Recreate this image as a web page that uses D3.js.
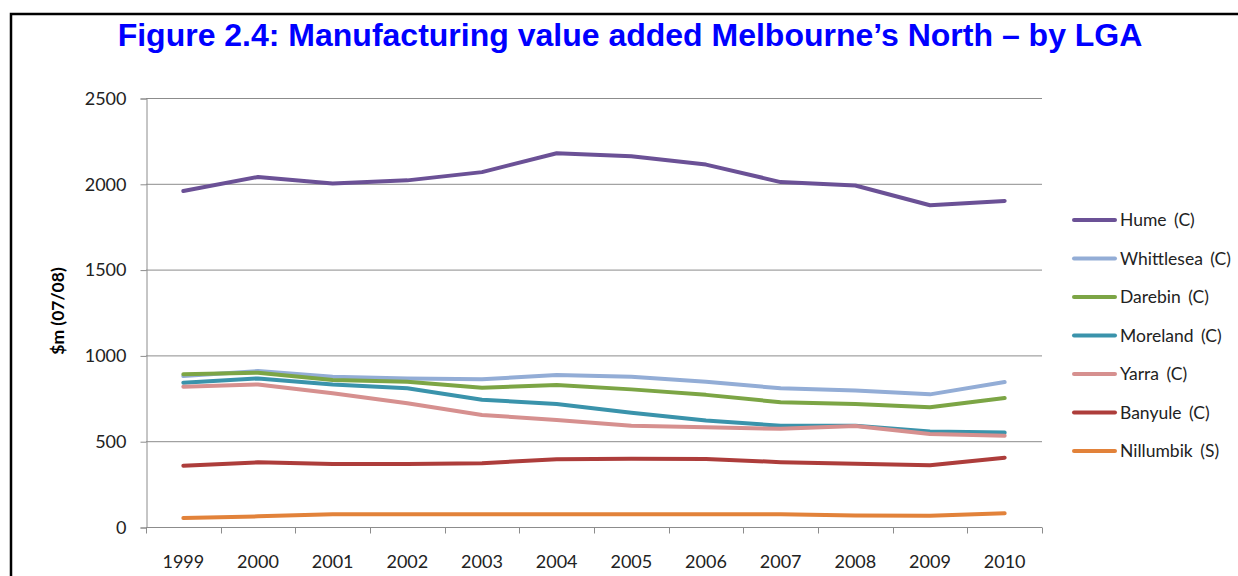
<!DOCTYPE html>
<html>
<head>
<meta charset="utf-8">
<script src="https://cdn.jsdelivr.net/npm/d3@7"></script>
<style>
  body { margin: 0; background: #fff; }
  svg { display: block; }
</style>
</head>
<body>
<svg id="chart" width="1238" height="576"></svg>
<script>
// Chart data
const years = ['1999', '2000', '2001', '2002', '2003', '2004', '2005', '2006', '2007', '2008', '2009', '2010']
const seriesNames = ['Hume (C)', 'Whittlesea (C)', 'Darebin (C)', 'Moreland (C)', 'Yarra (C)', 'Banyule (C)', 'Nillumbik (S)']
const hume = [1958, 2040, 2002, 2020, 2068, 2178, 2160, 2112, 2010, 1990, 1875, 1900]
const whittlesea = [880, 909, 876, 866, 861, 886, 876, 847, 808, 795, 773, 845]
const darebin = [890, 899, 857, 847, 812, 828, 802, 770, 727, 717, 698, 752]
const moreland = [841, 866, 831, 808, 742, 717, 666, 620, 590, 590, 556, 550]
const yarra = [818, 831, 779, 721, 653, 624, 590, 582, 572, 588, 542, 532]
const banyule = [357, 377, 367, 367, 372, 395, 398, 396, 378, 368, 360, 404]
const nillumbik = [52, 62, 74, 74, 74, 74, 74, 74, 74, 67, 66, 80]
const yTicks = [0, 500, 1000, 1500, 2000, 2500]

const colors = ['#6b5196', '#93add6', '#7ca545', '#3a93ab', '#d6908f', '#ad3d3b', '#e2823a']
const values = [hume, whittlesea, darebin, moreland, yarra, banyule, nillumbik]

const svg = d3.select('#chart')

// Frame (left + top edges)
svg.append('path')
  .attr('d', 'M11,576 V14 H1238')
  .attr('fill', 'none')
  .attr('stroke', '#000')
  .attr('stroke-width', 2.5)

// Title
svg.append('text')
  .attr('x', 630)
  .attr('y', 46)
  .attr('text-anchor', 'middle')
  .attr('font-family', 'Liberation Sans, Arial, sans-serif')
  .attr('font-weight', 'bold')
  .attr('font-size', 32)
  .attr('fill', '#0000ff')
  .text('Figure 2.4: Manufacturing value added Melbourne\u2019s North \u2013 by LGA')

const plotLeft = 146, plotRight = 1042, plotTop = 98, plotBottom = 527

const x = d3.scaleBand().domain(years).range([plotLeft, plotRight])
const y = d3.scaleLinear().domain([0, 2500]).range([plotBottom, plotTop])

const font = 'Lato, "Open Sans", sans-serif'

// Gridlines
svg.append('g')
  .selectAll('line')
  .data(yTicks.filter(d => d > 0))
  .join('line')
  .attr('x1', plotLeft)
  .attr('x2', plotRight)
  .attr('y1', d => y(d) + 0.5)
  .attr('y2', d => y(d) + 0.5)
  .attr('stroke', '#8c8c8c')
  .attr('stroke-width', 1)

// Y axis
const yAxis = svg.append('g')
  .attr('transform', `translate(${plotLeft + 0.5},0.5)`)
  .call(d3.axisLeft(y).tickValues(yTicks).tickFormat(d3.format('d')).tickSize(6).tickPadding(14))
yAxis.select('.domain').attr('stroke', '#8c8c8c')
yAxis.selectAll('.tick line').attr('stroke', '#8c8c8c')
yAxis.selectAll('.tick text')
  .attr('font-family', font)
  .attr('font-size', 18)
  .attr('fill', '#222')

// X axis (ticks at band edges)
const xAxis = svg.append('g')
  .attr('transform', `translate(0,${plotBottom + 0.5})`)
xAxis.append('line')
  .attr('x1', plotLeft).attr('x2', plotRight)
  .attr('stroke', '#8c8c8c')
xAxis.selectAll('.edge')
  .data(years.concat(['end']))
  .join('line')
  .attr('class', 'edge')
  .attr('x1', (d, i) => Math.round(plotLeft + i * x.step()) + 0.5)
  .attr('x2', (d, i) => Math.round(plotLeft + i * x.step()) + 0.5)
  .attr('y1', 0).attr('y2', 6)
  .attr('stroke', '#8c8c8c')
xAxis.selectAll('text')
  .data(years)
  .join('text')
  .attr('x', d => x(d) + x.bandwidth() / 2)
  .attr('y', 40)
  .attr('text-anchor', 'middle')
  .attr('font-family', font)
  .attr('font-size', 18)
  .attr('fill', '#222')
  .text(d => d)

// Y axis title
svg.append('text')
  .attr('transform', 'translate(64,311) rotate(-90)')
  .attr('text-anchor', 'middle')
  .attr('font-family', font)
  .attr('font-weight', 'bold')
  .attr('font-size', 17.5)
  .attr('fill', '#000')
  .text('$m (07/08)')

// Lines
const line = d3.line()
  .x((d, i) => x(years[i]) + x.bandwidth() / 2)
  .y(d => y(d))

svg.append('g')
  .selectAll('path')
  .data(values)
  .join('path')
  .attr('d', d => line(d))
  .attr('fill', 'none')
  .attr('stroke', (d, i) => colors[i])
  .attr('stroke-width', 4)
  .attr('stroke-linejoin', 'round')
  .attr('stroke-linecap', 'round')

// Legend
const legend = svg.append('g')
  .selectAll('g')
  .data(seriesNames)
  .join('g')
  .attr('transform', (d, i) => `translate(1073,${220 + i * 38.5})`)
legend.append('line')
  .attr('x1', 1).attr('x2', 42)
  .attr('stroke', (d, i) => colors[i])
  .attr('stroke-width', 4)
  .attr('stroke-linecap', 'round')
legend.append('text')
  .attr('x', 47)
  .attr('y', 6)
  .attr('font-family', font)
  .attr('font-size', 17.5)
  .attr('word-spacing', 3)
  .attr('fill', '#222')
  .text(d => d)
</script>
</body>
</html>
